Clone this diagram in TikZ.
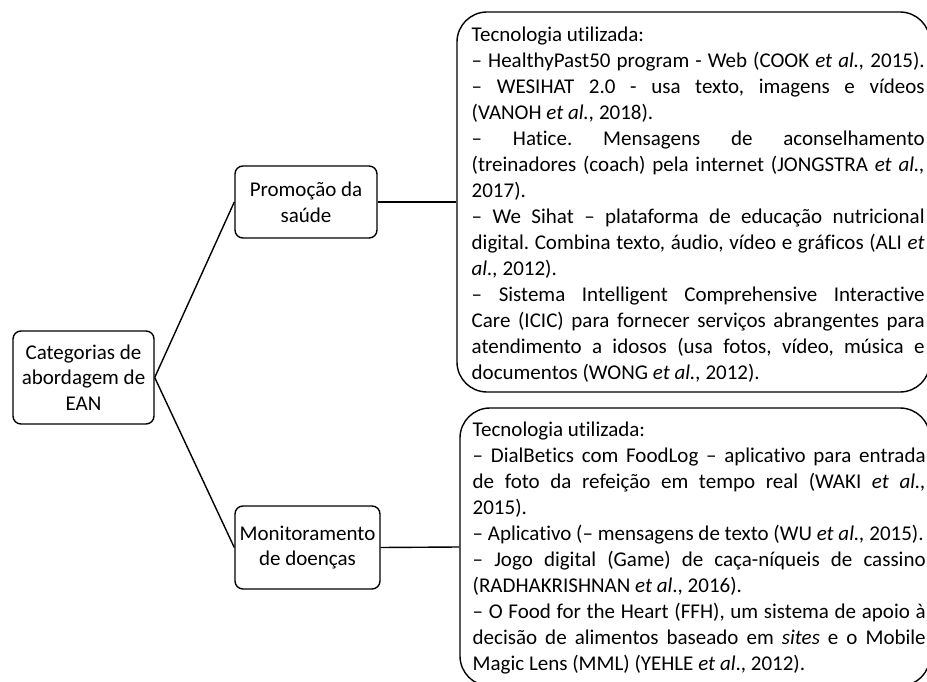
\documentclass[tikz,border=0pt]{standalone}
\usepackage{fontspec}
\setmainfont{Carlito}[Ligatures=NoCommon]
\usetikzlibrary{positioning}

\begin{document}
\begin{tikzpicture}[x=1pt,
            y=-1pt,
            line width=1.4pt,
            font=\fontsize{21}{25.6}\selectfont,
            catbox/.style={draw, rounded corners=8pt, align=center, inner sep=0pt},
            techbox/.style={draw, rounded corners=30pt, inner sep=0pt},
            techtext/.style={anchor=base west, text width=453pt, align=justify, inner sep=0pt,
                             font=\fontsize{21}{26}\selectfont\frenchspacing}]

        \useasboundingbox (0,0) rectangle (927,682);

        % categories
        \node[catbox, minimum width=141pt, minimum height=93pt] (root)  at (83.5,377.5) {Categorias de\\abordagem de\\EAN};
        \node[catbox, minimum width=142pt, minimum height=72pt] (promo) at (306,202)    {Promoção da\\saúde};
        \node[catbox, minimum width=145pt, minimum height=83pt] (monit) at (307.5,547.5) {Monitoramento\\de doenças};

        % technology boxes
        \node[techbox, minimum width=473pt, minimum height=380pt] (promobox) at (693.5,202) {};
        \node[techbox, minimum width=470pt, minimum height=278pt] (monitbox) at (695,547)   {};

        \node[techtext] (promotxt) at (471,42) {Tecnologia utilizada:\par
            \makebox[\linewidth][s]{– HealthyPast50 program - Web (COOK \textit{et al.,} 2015).}\par
            – WESIHAT 2.0 - usa texto, imagens e vídeos\linebreak (VANOH \textit{et al.,} 2018).\par
            – Hatice. Mensagens de aconselhamento\linebreak (treinadores (coach) pela internet (JONGSTRA \textit{et al.,}\linebreak 2017).\par
            – We Sihat – plataforma de educação nutricional\linebreak digital. Combina texto, áudio, vídeo e gráficos (ALI \textit{et}\linebreak \textit{al.,} 2012).\par
            – Sistema Intelligent Comprehensive Interactive\linebreak Care (ICIC) para fornecer serviços abrangentes para\linebreak atendimento a idosos (usa fotos, vídeo, música e\linebreak documentos (WONG \textit{et al.,} 2012).};

        \node[techtext] (monittxt) at (472,436) {Tecnologia utilizada:\par
            – DialBetics com FoodLog – aplicativo para entrada\linebreak de foto da refeição em tempo real (WAKI \textit{et al.,}\linebreak 2015).\par
            – Aplicativo (– mensagens de texto (WU \textit{et al.,} 2015).\par
            – Jogo digital (Game) de caça-níqueis de cassino\linebreak (RADHAKRISHNAN \textit{et al}., 2016).\par
            – O Food for the Heart (FFH), um sistema de apoio à\linebreak decisão de alimentos baseado em \textit{sites} e o Mobile\linebreak Magic Lens (MML) (YEHLE \textit{et al}., 2012).};

        \path (root.east)  edge (promo.west)
                           edge (monit.west)
              (promo.east) edge (promobox.west)
              (monit.east) edge (monitbox.west);

    \end{tikzpicture}
\end{document}
